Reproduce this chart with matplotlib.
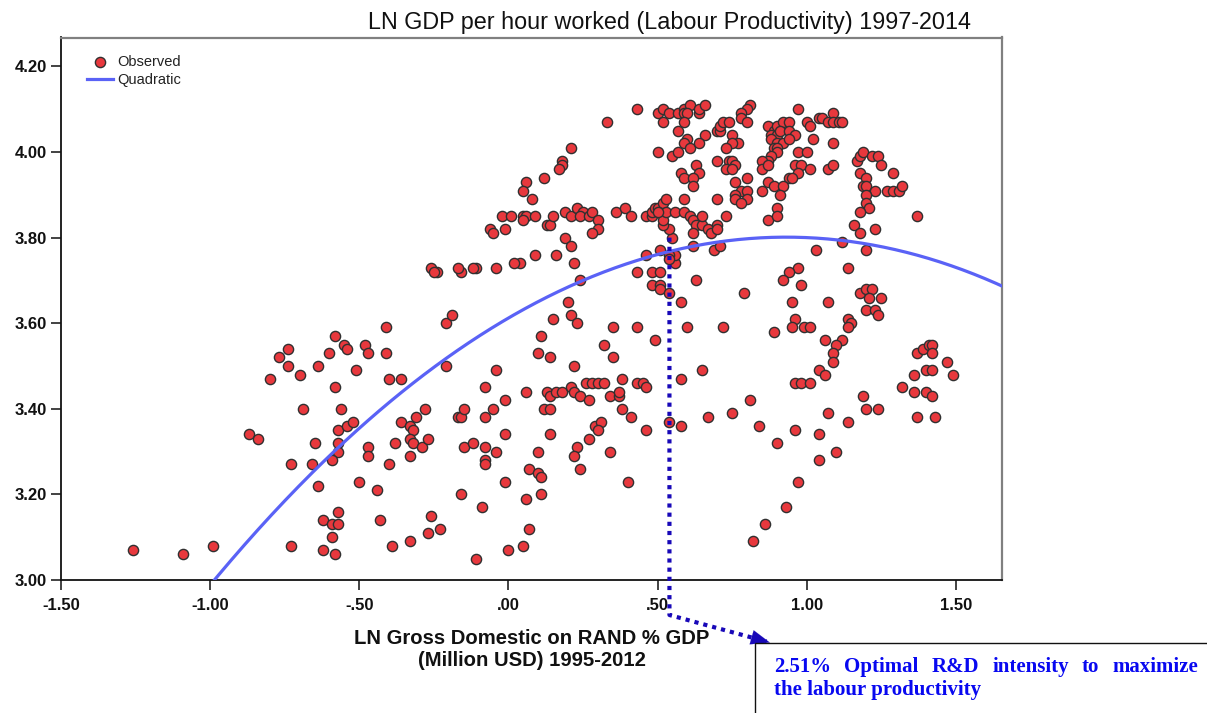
import numpy as np
import matplotlib
matplotlib.use("Agg")
import matplotlib.pyplot as plt
from matplotlib.patches import Rectangle
from matplotlib.ticker import FuncFormatter

# observed points (LN R&D % GDP, LN GDP per hour)
left_low = [
    (-1.26, 3.07), (-1.09, 3.06), (-0.99, 3.08), (-0.87, 3.34), (-0.84, 3.33), (-0.80, 3.47),
    (-0.77, 3.52), (-0.74, 3.54), (-0.74, 3.50), (-0.70, 3.48), (-0.73, 3.08), (-0.73, 3.27),
    (-0.69, 3.40), (-0.66, 3.27), (-0.65, 3.32), (-0.64, 3.22), (-0.64, 3.50), (-0.60, 3.53),
    (-0.58, 3.57), (-0.55, 3.55), (-0.54, 3.54), (-0.58, 3.45), (-0.56, 3.40), (-0.57, 3.35),
    (-0.54, 3.36), (-0.52, 3.37), (-0.57, 3.32), (-0.57, 3.30), (-0.59, 3.28), (-0.62, 3.14),
    (-0.59, 3.13), (-0.57, 3.13), (-0.57, 3.16), (-0.59, 3.10), (-0.62, 3.07), (-0.58, 3.06),
    (-0.51, 3.49), (-0.48, 3.55), (-0.47, 3.53), (-0.41, 3.59), (-0.41, 3.53), (-0.40, 3.47),
    (-0.36, 3.47), (-0.47, 3.31), (-0.47, 3.29), (-0.50, 3.23), (-0.44, 3.21), (-0.40, 3.27),
    (-0.38, 3.32), (-0.36, 3.37), (-0.33, 3.36), (-0.32, 3.35), (-0.31, 3.38), (-0.28, 3.40),
    (-0.33, 3.33), (-0.32, 3.32), (-0.29, 3.31), (-0.33, 3.29), (-0.27, 3.33), (-0.43, 3.14),
    (-0.39, 3.08), (-0.33, 3.09), (-0.27, 3.11), (-0.23, 3.12), (-0.26, 3.15),
]
center_low = [
    (-0.21, 3.60), (-0.19, 3.62), (-0.21, 3.50), (-0.17, 3.38), (-0.16, 3.38), (-0.15, 3.40),
    (-0.15, 3.31), (-0.12, 3.32), (-0.16, 3.20), (-0.09, 3.17), (-0.11, 3.05), (-0.08, 3.45),
    (-0.04, 3.49), (-0.08, 3.38), (-0.05, 3.40), (-0.01, 3.42), (-0.08, 3.31), (-0.04, 3.30),
    (-0.08, 3.28), (-0.08, 3.27), (-0.01, 3.34), (-0.01, 3.23), (0.00, 3.07),
    (0.20, 3.65), (0.15, 3.61), (0.21, 3.62), (0.23, 3.60), (0.11, 3.57), (0.10, 3.53),
    (0.14, 3.52), (0.06, 3.44), (0.05, 3.08), (0.07, 3.12), (0.06, 3.19), (0.11, 3.20),
    (0.10, 3.30), (0.07, 3.26), (0.10, 3.25), (0.11, 3.24), (0.14, 3.34), (0.13, 3.44),
    (0.14, 3.43), (0.16, 3.44), (0.18, 3.44), (0.21, 3.45), (0.22, 3.44), (0.24, 3.43),
    (0.27, 3.42), (0.12, 3.40), (0.14, 3.40), (0.22, 3.50), (0.26, 3.46), (0.28, 3.46),
    (0.30, 3.46), (0.32, 3.46), (0.38, 3.47), (0.34, 3.43), (0.37, 3.43), (0.37, 3.44),
    (0.38, 3.40), (0.41, 3.38), (0.43, 3.46), (0.45, 3.46), (0.46, 3.45), (0.46, 3.35),
    (0.29, 3.36), (0.31, 3.37), (0.30, 3.35), (0.27, 3.33), (0.23, 3.31), (0.22, 3.29),
    (0.24, 3.26), (0.34, 3.30), (0.40, 3.23), (0.32, 3.55), (0.35, 3.52), (0.35, 3.59),
    (0.43, 3.59), (0.49, 3.56),
]
right_low = [
    (0.58, 3.65), (0.60, 3.59), (0.58, 3.47), (0.65, 3.49), (0.54, 3.37), (0.58, 3.36),
    (0.67, 3.38), (0.75, 3.39), (0.72, 3.59), (0.81, 3.42), (0.84, 3.36), (0.90, 3.32),
    (0.96, 3.35), (0.97, 3.23), (0.93, 3.17), (0.86, 3.13), (0.82, 3.09), (0.89, 3.58),
    (0.95, 3.65), (0.96, 3.61), (0.95, 3.59), (0.99, 3.59), (1.01, 3.59), (0.96, 3.46),
    (0.98, 3.46), (1.01, 3.46), (1.07, 3.65), (1.06, 3.56), (1.14, 3.61), (1.15, 3.60),
    (1.14, 3.59), (1.12, 3.56), (1.10, 3.55), (1.09, 3.53), (1.09, 3.51), (1.04, 3.49),
    (1.06, 3.48), (1.20, 3.63), (1.23, 3.63), (1.24, 3.62), (1.19, 3.43), (1.20, 3.40),
    (1.24, 3.40), (1.07, 3.39), (1.14, 3.37), (1.04, 3.34), (1.10, 3.30), (1.04, 3.28),
    (0.79, 3.67), (1.18, 3.67), (1.20, 3.68), (1.22, 3.68), (1.21, 3.66), (1.25, 3.66),
]
far_right = [
    (1.37, 3.53), (1.39, 3.54), (1.41, 3.55), (1.42, 3.55), (1.42, 3.53), (1.47, 3.51),
    (1.49, 3.48), (1.36, 3.48), (1.40, 3.49), (1.42, 3.49), (1.32, 3.45), (1.36, 3.44),
    (1.40, 3.44), (1.42, 3.43), (1.37, 3.38), (1.43, 3.38),
]
upper_band = [
    (0.43, 4.10), (0.33, 4.07), (0.21, 4.01), (0.18, 3.98), (0.18, 3.97), (0.17, 3.96),
    (0.12, 3.94), (0.06, 3.93), (0.05, 3.91), (0.08, 3.89), (-0.02, 3.85), (0.01, 3.85),
    (0.05, 3.85), (0.06, 3.85), (0.05, 3.84), (0.09, 3.85), (-0.01, 3.82), (-0.06, 3.82),
    (-0.05, 3.81), (0.13, 3.83), (0.14, 3.83), (0.15, 3.85), (0.19, 3.86), (0.21, 3.85),
    (0.23, 3.87), (0.25, 3.86), (0.24, 3.85), (0.27, 3.85), (0.28, 3.86), (0.30, 3.84),
    (0.30, 3.82), (0.28, 3.81), (0.19, 3.80), (0.21, 3.78), (0.22, 3.74), (0.16, 3.76),
    (0.09, 3.76), (0.04, 3.74), (0.02, 3.74), (-0.04, 3.73), (-0.11, 3.73), (-0.12, 3.73),
    (-0.16, 3.72), (-0.17, 3.73), (-0.26, 3.73), (-0.24, 3.72), (-0.25, 3.72), (0.24, 3.70),
    (0.36, 3.86), (0.39, 3.87), (0.41, 3.85), (0.43, 3.72), (0.46, 3.76), (0.48, 3.72),
    (0.48, 3.69), (0.46, 3.85), (0.48, 3.85), (0.48, 3.86), (0.49, 3.87),
]
top_mid = [
    (0.51, 3.72), (0.51, 3.69), (0.51, 3.68), (0.54, 3.67), (0.63, 3.70), (0.56, 3.74),
    (0.56, 3.76), (0.51, 3.77), (0.54, 3.76), (0.54, 3.75), (0.55, 3.80), (0.54, 3.82),
    (0.52, 3.83), (0.52, 3.84), (0.50, 3.87), (0.52, 3.88), (0.53, 3.89), (0.53, 3.86),
    (0.50, 3.86), (0.56, 3.86), (0.59, 3.89), (0.59, 3.86), (0.61, 3.85), (0.62, 3.84),
    (0.63, 3.83), (0.65, 3.83), (0.67, 3.82), (0.68, 3.81), (0.70, 3.83), (0.70, 3.82),
    (0.65, 3.85), (0.62, 3.81), (0.62, 3.78), (0.69, 3.77), (0.70, 3.89), (0.70, 3.98),
    (0.50, 4.09), (0.52, 4.10), (0.54, 4.09), (0.57, 4.09), (0.59, 4.10), (0.61, 4.11),
    (0.64, 4.09), (0.64, 4.10), (0.66, 4.11), (0.59, 4.09), (0.60, 4.09), (0.52, 4.07),
    (0.59, 4.07), (0.57, 4.05), (0.66, 4.04), (0.60, 4.03), (0.59, 4.02), (0.61, 4.01),
    (0.64, 4.02), (0.50, 4.00), (0.55, 3.99), (0.57, 4.00), (0.63, 3.97), (0.64, 3.95),
    (0.58, 3.95), (0.59, 3.94), (0.62, 3.94), (0.62, 3.92), (0.70, 4.05), (0.71, 4.05),
    (0.81, 4.11), (0.80, 4.10), (0.78, 4.09), (0.78, 4.08), (0.80, 4.07), (0.71, 4.06),
    (0.72, 4.07), (0.74, 4.07), (0.75, 4.04), (0.77, 4.02), (0.75, 4.02), (0.73, 4.01),
    (0.74, 3.98), (0.75, 3.98), (0.76, 3.97), (0.73, 3.96), (0.75, 3.96), (0.80, 3.94),
    (0.76, 3.93), (0.78, 3.91), (0.80, 3.91), (0.76, 3.90), (0.76, 3.89), (0.80, 3.89),
    (0.78, 3.88), (0.73, 3.85), (0.71, 3.78),
]
top_right = [
    (0.87, 4.06), (0.89, 4.05), (0.90, 4.06), (0.92, 4.07), (0.94, 4.07), (0.88, 4.04),
    (0.90, 4.04), (0.91, 4.05), (0.94, 4.05), (0.96, 4.04), (0.88, 4.03), (0.90, 4.02),
    (0.92, 4.02), (0.94, 4.03), (0.89, 4.01), (0.90, 4.01), (0.90, 4.00), (0.88, 3.99),
    (0.87, 3.98), (0.85, 3.98), (0.85, 3.96), (0.87, 3.97), (0.97, 4.10), (1.00, 4.07),
    (1.01, 4.06), (1.04, 4.08), (1.05, 4.08), (1.07, 4.07), (1.09, 4.09), (1.09, 4.07),
    (1.11, 4.07), (1.12, 4.07), (1.02, 4.03), (1.09, 4.02), (0.97, 4.00), (1.00, 4.00),
    (0.96, 3.97), (0.98, 3.97), (1.01, 3.96), (0.97, 3.95), (0.94, 3.94), (0.95, 3.94),
    (1.07, 3.96), (1.09, 3.97), (0.85, 3.91), (0.87, 3.93), (0.89, 3.92), (0.92, 3.92),
    (0.91, 3.90), (0.90, 3.87), (0.87, 3.84), (0.90, 3.85), (1.17, 3.98), (1.18, 3.99),
    (1.19, 4.00), (1.22, 3.99), (1.24, 3.99), (1.25, 3.97), (1.29, 3.95), (1.18, 3.95),
    (1.20, 3.94), (1.19, 3.92), (1.20, 3.92), (1.23, 3.91), (1.27, 3.91), (1.29, 3.91),
    (1.31, 3.91), (1.32, 3.92), (1.20, 3.90), (1.20, 3.88), (1.21, 3.87), (1.18, 3.86),
    (1.16, 3.83), (1.18, 3.81), (1.23, 3.82), (1.20, 3.77), (1.12, 3.79), (1.37, 3.85),
    (1.03, 3.77), (1.14, 3.73), (0.97, 3.73), (0.94, 3.72), (0.92, 3.70), (0.98, 3.69),
]

# fitted quadratic y = b0 + b1*x + b2*x^2
quad_coef = [3.612, 0.406, -0.218]
# optimum marked on the chart
opt_x, opt_y = 0.54, 3.80

x_ticks = [-1.5, -1.0, -0.5, 0.0, 0.5, 1.0, 1.5]
y_ticks = [3.0, 3.2, 3.4, 3.6, 3.8, 4.0, 4.2]

title = "LN GDP per hour worked (Labour Productivity) 1997-2014"
xlabel_lines = ["LN Gross Domestic on RAND % GDP", "(Million USD) 1995-2012"]
box_lines = ["2.51% Optimal R&D intensity to maximize", "the labour productivity"]

SANS = "Liberation Sans"
SERIF = "Liberation Serif"
W, H = 1207, 713


def spss_fmt(v, pos=None):
    s = f"{v:.2f}"
    if s.startswith("0."):
        s = s[1:]
    elif s.startswith("-0."):
        s = "-" + s[2:]
    return s


def main():
    pts = np.array(left_low + center_low + right_low + far_right
                   + upper_band + top_mid + top_right)

    fig = plt.figure(figsize=(W / 100, H / 100), dpi=100)
    ax = fig.add_axes([61 / W, 1 - 580 / H, 941 / W, 542.5 / H])

    ax.scatter(pts[:, 0], pts[:, 1], s=54, c="#E8383D", edgecolors="#303030",
               linewidths=1.0, zorder=2, label="Observed")
    xs = np.linspace(-1.2, 1.8, 400)
    ys = np.polyval(quad_coef[::-1], xs)
    ax.plot(xs, ys, color="#5A62F6", lw=2.3, zorder=3, label="Quadratic")

    ax.set_xlim(-1.5, 1.655)
    ax.set_ylim(3.0, 4.2675)
    ax.set_xticks(x_ticks)
    ax.set_yticks(y_ticks)
    ax.xaxis.set_major_formatter(FuncFormatter(spss_fmt))
    ax.yaxis.set_major_formatter(FuncFormatter(spss_fmt))
    ax.tick_params(direction="out", length=7, width=1.2, color="#222222")
    ax.tick_params(axis="x", pad=6)
    ax.tick_params(axis="y", pad=3)
    for lab in ax.get_xticklabels() + ax.get_yticklabels():
        lab.set_fontfamily(SANS)
        lab.set_fontweight("bold")
        lab.set_fontsize(12)
        lab.set_color("#111111")

    for side in ("left", "bottom"):
        ax.spines[side].set_color("#111111")
        ax.spines[side].set_linewidth(1.3)
    for side in ("top", "right"):
        ax.spines[side].set_color("#808080")
        ax.spines[side].set_linewidth(1.6)

    leg = ax.legend(loc="upper left", bbox_to_anchor=(0.028, 0.968), frameon=False,
                    borderpad=0, borderaxespad=0, handlelength=1.75, handletextpad=0.3,
                    labelspacing=0.3, prop={"family": SANS, "size": 10.5})
    for t in leg.get_texts():
        t.set_color("#222222")

    fig.text(669 / W, 1 - 22 / H, title, ha="center", va="center",
             fontsize=16.8, family=SANS, color="#111111")
    fig.text(531.5 / W, 1 - 638 / H, xlabel_lines[0], ha="center", va="center",
             fontsize=14.6, fontweight="bold", family=SANS, color="#111111")
    fig.text(531.5 / W, 1 - 661 / H, xlabel_lines[1], ha="center", va="center",
             fontsize=14.6, fontweight="bold", family=SANS, color="#111111")

    # dotted guide from the optimum down below the axis, then to the note box
    dot_col = "#1808B8"
    y_bend = 3.0 - 35 / 428.0
    tip_x = (771.7 - 507.5) / 298.3
    tip_y = 3.0 - 63.3 / 428.0
    ax.plot([opt_x, opt_x, tip_x - 0.02], [opt_y, y_bend, tip_y + 0.004],
            color=dot_col, lw=3.0, linestyle=(0, (1, 1.2)), dash_capstyle="butt",
            clip_on=False, zorder=5)
    ax.annotate("", xy=(tip_x, tip_y), xytext=(tip_x - 0.05, tip_y + 0.01),
                arrowprops=dict(arrowstyle="-|>,head_length=0.9,head_width=0.35",
                                color=dot_col, lw=0.1, mutation_scale=15),
                annotation_clip=False, zorder=5)

    fig.patches.append(Rectangle((754.5 / W, -0.02), 0.5, 1 - 643.3 / H + 0.02,
                                 transform=fig.transFigure, fill=False,
                                 edgecolor="#111111", lw=1.0))

    box_kw = dict(fontsize=15, fontweight="bold", family=SERIF, color="#0808F0",
                  ha="left", va="center")
    words = box_lines[0].split()
    texts = [fig.text(0, 1 - 667 / H, w, **box_kw) for w in words]
    fig.canvas.draw()
    r = fig.canvas.get_renderer()
    widths = [t.get_window_extent(r).width for t in texts]
    x0, x1 = 774.0, 1198.0
    gap = (x1 - x0 - sum(widths)) / (len(words) - 1)
    x = x0
    for t, w in zip(texts, widths):
        t.set_x(x / W)
        x += w + gap
    fig.text(x0 / W, 1 - 690 / H, box_lines[1], **box_kw)

    fig.savefig("out.png", dpi=100)


if __name__ == "__main__":
    main()
